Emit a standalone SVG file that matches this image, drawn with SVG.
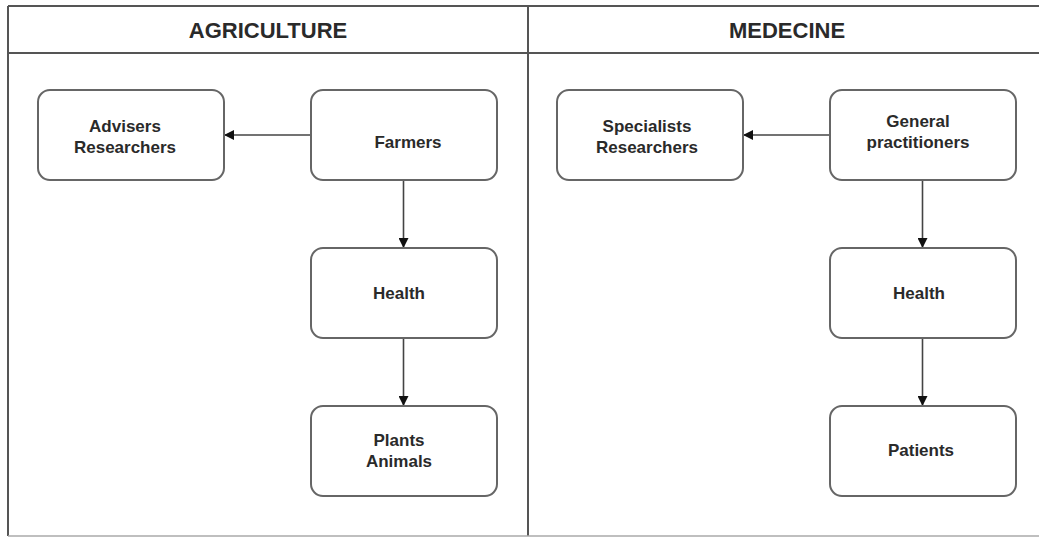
<svg xmlns="http://www.w3.org/2000/svg" width="1039" height="538" viewBox="0 0 1039 538">
<style>
.frame{fill:none;stroke:#555;stroke-width:2}
.box{fill:#fff;stroke:#666;stroke-width:2}
.lbl{font-family:"Liberation Sans",Arial,sans-serif;font-weight:bold;font-size:17px;fill:#2a2a2a;text-anchor:middle}
.hdr{font-family:"Liberation Sans",Arial,sans-serif;font-weight:bold;font-size:22px;fill:#2a2a2a;text-anchor:middle}
.edge{fill:none;stroke:#444;stroke-width:1.6}
</style>
<defs>
<marker id="arr" viewBox="0 0 10 10" refX="9" refY="5" markerWidth="11" markerHeight="10" markerUnits="userSpaceOnUse" orient="auto">
<path d="M0,0 L10,5 L0,10 z" fill="#111"/>
</marker>
</defs>
<rect width="1039" height="538" fill="#fff"/>
<g id="frame">
<line class="frame" x1="8" y1="6" x2="1039" y2="6"/>
<line class="frame" x1="8" y1="53" x2="1039" y2="53"/>
<line class="frame" x1="8" y1="6" x2="8" y2="536"/>
<line class="frame" x1="528" y1="6" x2="528" y2="536"/>
<line x1="8" y1="536" x2="1039" y2="536" stroke="#aaa" stroke-width="1.5"/>
<text class="hdr" x="268" y="38">AGRICULTURE</text>
<text class="hdr" x="787" y="38">MEDECINE</text>
</g>
<g id="connectors">
<line class="edge" x1="311" y1="135" x2="225" y2="135" marker-end="url(#arr)"/>
<line class="edge" x1="403.5" y1="180" x2="403.5" y2="247" marker-end="url(#arr)"/>
<line class="edge" x1="403.5" y1="338" x2="403.5" y2="405" marker-end="url(#arr)"/>
<line class="edge" x1="830" y1="135" x2="744" y2="135" marker-end="url(#arr)"/>
<line class="edge" x1="922.5" y1="180" x2="922.5" y2="247" marker-end="url(#arr)"/>
<line class="edge" x1="922.5" y1="338" x2="922.5" y2="405" marker-end="url(#arr)"/>
</g>
<g id="advisers">
<rect class="box" x="38" y="90" width="186" height="90" rx="12"/>
<text class="lbl" x="125" y="132">Advisers</text>
<text class="lbl" x="125" y="153">Researchers</text>
</g>
<g id="farmers">
<rect class="box" x="311" y="90" width="186" height="90" rx="12"/>
<text class="lbl" x="408" y="148">Farmers</text>
</g>
<g id="health-agri">
<rect class="box" x="311" y="248" width="186" height="90" rx="12"/>
<text class="lbl" x="399" y="299">Health</text>
</g>
<g id="plants">
<rect class="box" x="311" y="406" width="186" height="90" rx="12"/>
<text class="lbl" x="399" y="446">Plants</text>
<text class="lbl" x="399" y="467">Animals</text>
</g>
<g id="specialists">
<rect class="box" x="557" y="90" width="186" height="90" rx="12"/>
<text class="lbl" x="647" y="132">Specialists</text>
<text class="lbl" x="647" y="153">Researchers</text>
</g>
<g id="gp">
<rect class="box" x="830" y="90" width="186" height="90" rx="12"/>
<text class="lbl" x="918" y="127">General</text>
<text class="lbl" x="918" y="148">practitioners</text>
</g>
<g id="health-med">
<rect class="box" x="830" y="248" width="186" height="90" rx="12"/>
<text class="lbl" x="919" y="299">Health</text>
</g>
<g id="patients">
<rect class="box" x="830" y="406" width="186" height="90" rx="12"/>
<text class="lbl" x="921" y="456">Patients</text>
</g>
</svg>
